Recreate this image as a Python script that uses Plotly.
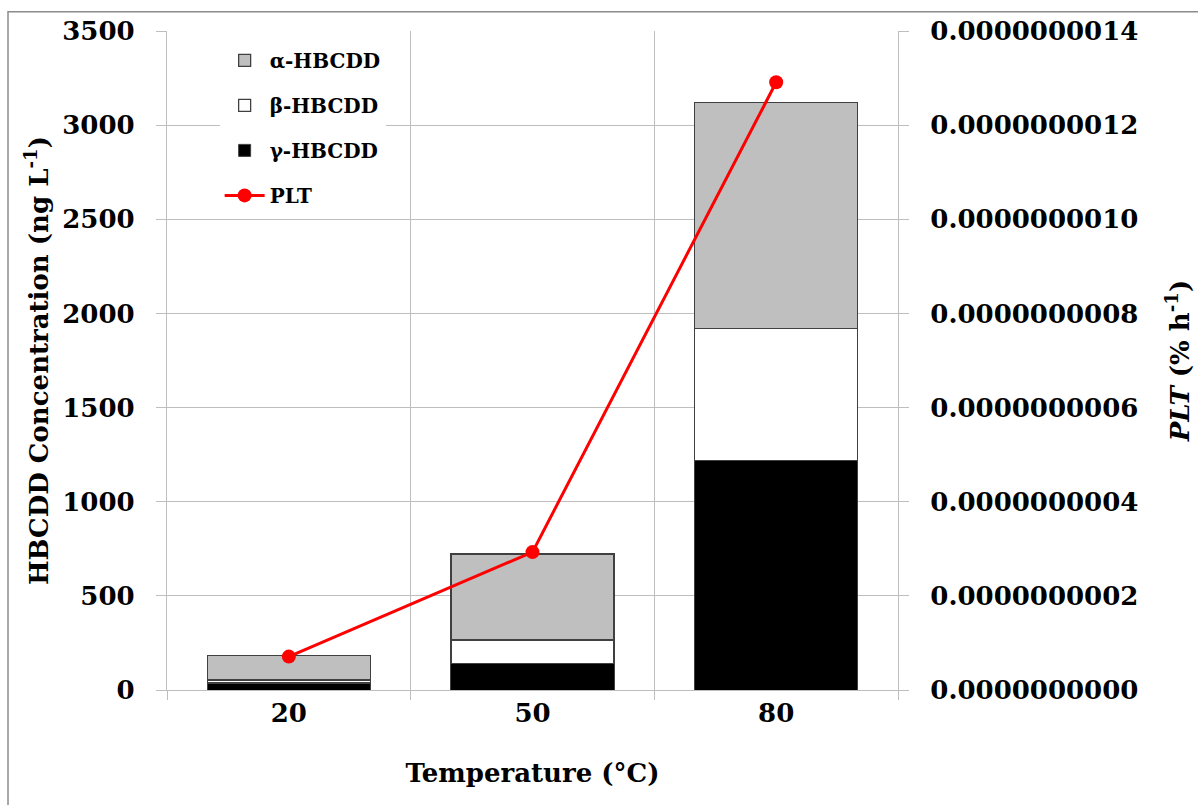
import plotly.graph_objects as go

categories = ["20", "50", "80"]
gamma_vals = [38, 142, 1220]
beta_vals = [15, 124, 700]
alpha_vals = [129, 456, 1201]
plt_vals = [7.1e-11, 2.93e-10, 1.291e-9]

FONT = "DejaVu Serif"
GRID = "#BEBEBE"
EDGE = "#404040"

fig = go.Figure()
fig.add_trace(go.Bar(x=categories, y=gamma_vals, name="γ-HBCDD", marker=dict(color="#000000", line=dict(color=EDGE, width=1)),
                     width=0.67, legendrank=3, legendgroup="g"))
fig.add_trace(go.Bar(x=categories, y=beta_vals, name="β-HBCDD", marker=dict(color="#FFFFFF", line=dict(color=EDGE, width=1.3)),
                     width=0.67, legendrank=2, legendgroup="b"))
fig.add_trace(go.Bar(x=categories, y=alpha_vals, name="α-HBCDD", marker=dict(color="#BFBFBF", line=dict(color=EDGE, width=1.3)),
                     width=0.67, legendrank=1, legendgroup="a"))
fig.add_trace(go.Scatter(x=categories, y=plt_vals, name="PLT", yaxis="y2", mode="lines+markers",
                         line=dict(color="#FF0000", width=3), marker=dict(color="#FF0000", size=14),
                         legendrank=4, legendgroup="p"))

fig.update_layout(
    barmode="stack",
    width=1198, height=805,
    margin=dict(l=167, r=300, t=31, b=115, autoexpand=False),
    paper_bgcolor="white", plot_bgcolor="white",
    font=dict(family=FONT, size=26, color="black"),
    showlegend=True,
    legend=dict(x=0.072, y=0.985, xanchor="left", yanchor="top", bgcolor="white",
                font=dict(family=FONT, size=20, color="black", weight="bold"), traceorder="grouped",
                tracegroupgap=16, itemwidth=40),
    xaxis=dict(type="category", range=[-0.5, 2.5], tickson="boundaries", showgrid=True, gridcolor=GRID, gridwidth=1.3,
               ticks="outside", ticklen=9, tickcolor=GRID, tickwidth=1.3, showline=True, linecolor=GRID, linewidth=1.3,
               tickfont=dict(family=FONT, size=26, weight="bold"),
               title=dict(text="<b>Temperature (°C)</b>", font=dict(family=FONT, size=26), standoff=36),
               zeroline=False),
    yaxis=dict(range=[0, 3500], dtick=500, showgrid=True, gridcolor=GRID, gridwidth=1.3, zeroline=False,
               ticks="outside", ticklen=10, tickcolor=GRID, tickwidth=1.3, showline=True, linecolor=GRID, linewidth=1.3,
               tickfont=dict(family=FONT, size=26, weight="bold"), ticklabelstandoff=16,
               title=dict(text="<b>HBCDD Concentration (ng L<sup>-1</sup>)</b>", font=dict(family=FONT, size=26), standoff=6)),
    yaxis2=dict(range=[0, 1.4e-9], dtick=2e-10, overlaying="y", side="right", showgrid=False, zeroline=False,
                tickformat=".10f", ticks="outside", ticklen=10, tickcolor=GRID, tickwidth=1.3,
                showline=True, linecolor=GRID, linewidth=1.3,
                tickfont=dict(family=FONT, size=26, weight="bold"), ticklabelstandoff=16,
                title=dict(text="<b><i>PLT</i> (% h<sup>-1</sup>)</b>", font=dict(family=FONT, size=26), standoff=33)),
)

fig.add_shape(type="rect", xref="paper", yref="paper", x0=-0.2175, x1=1.42, y0=-0.19, y1=1.0293,
              line=dict(color="#8C8C8C", width=1.5), fillcolor="rgba(0,0,0,0)", layer="below")

fig.write_html("out.html")
